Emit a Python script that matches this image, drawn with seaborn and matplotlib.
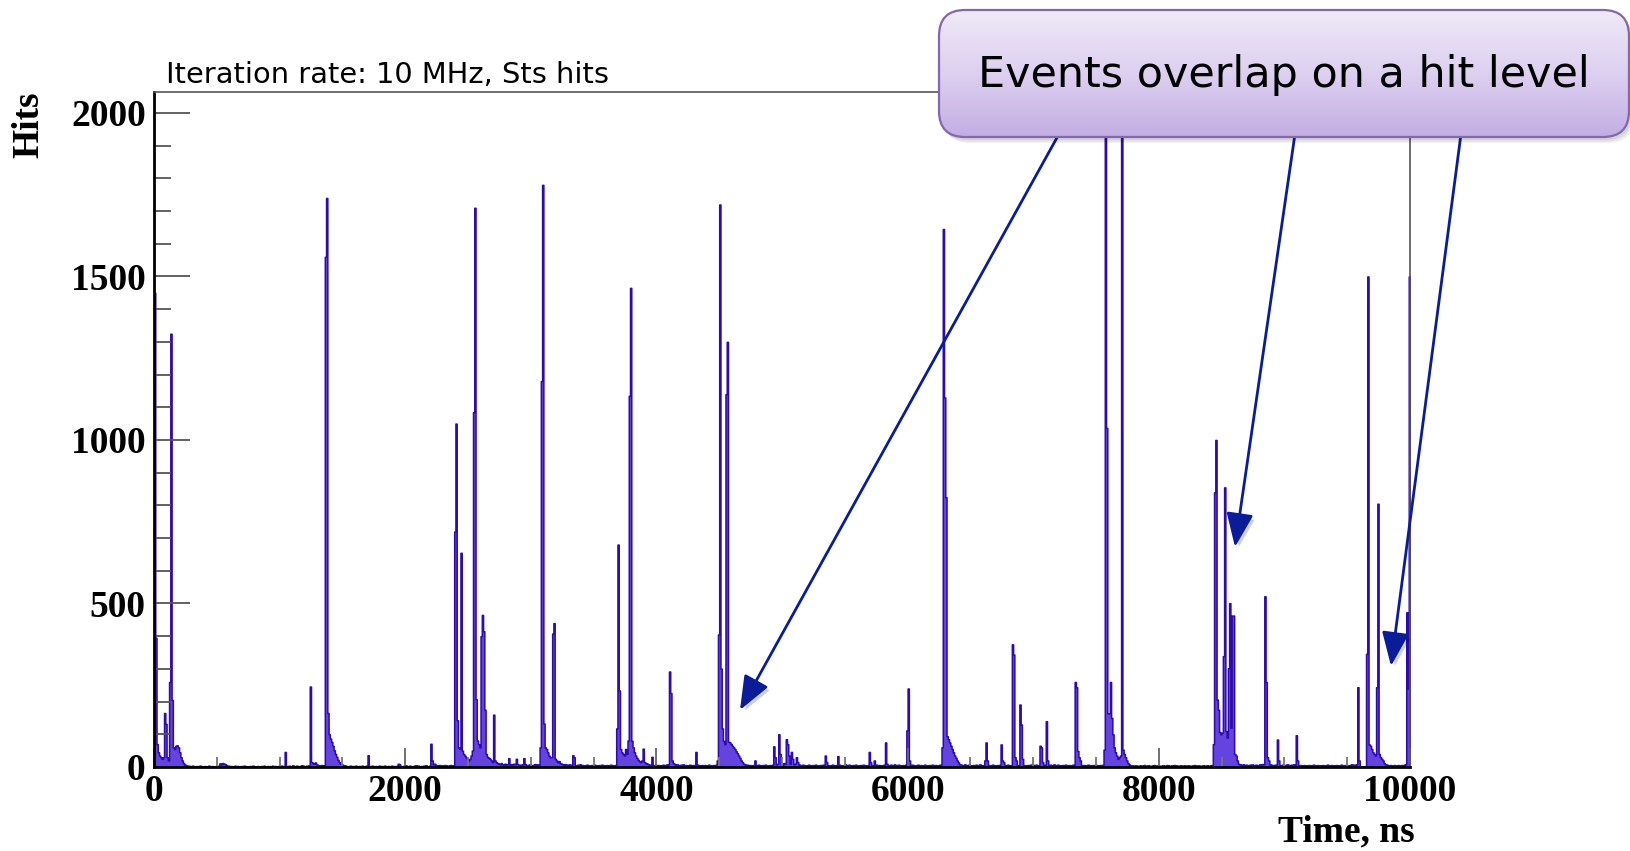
import numpy as np
import pandas as pd
import matplotlib
matplotlib.use("Agg")
import matplotlib.pyplot as plt
import seaborn as sns
from matplotlib.patches import FancyBboxPatch
from matplotlib.colors import LinearSegmentedColormap
from matplotlib import patheffects as pe
from matplotlib import font_manager as fm
from matplotlib.ticker import MultipleLocator

# ---------------- data ----------------
bin_width_ns = 10
time_range_ns = (0, 10000)

# bursts: start time (ns) and consecutive 10 ns bin contents (hits)
burst_starts_ns = [0, 520, 1040, 1240, 1360, 1700, 1940, 2200, 2390, 2820, 2880, 2940,
                   3070, 3330, 3680, 3960, 4100, 4310, 4480, 4780, 4930, 5340, 5440,
                   5690, 5730, 5820, 5990, 6270, 6610, 6740, 6830, 6890, 7050, 7100,
                   7330, 7560, 8430, 8840, 8940, 9090, 9580, 9650, 9970]
burst_counts = [
    [1450, 395, 70, 45, 35, 30, 25, 30, 165, 132, 30, 20, 260, 1325, 205, 60, 55, 65, 66, 60, 45, 30, 20, 12, 8, 5, 3],
    [11, 8, 12, 10, 9, 6],
    [46],
    [246, 15, 12, 10, 14, 8],
    [1560, 1740, 165, 100, 87, 77, 65, 51, 40, 31, 22, 15, 10, 8, 6, 5],
    [36],
    [10, 8],
    [71, 20, 8, 10, 6],
    [720, 1050, 143, 60, 55, 655, 50, 40, 35, 30, 25, 20, 25, 35, 50, 1085, 1710, 207, 81, 70, 60,
     400, 465, 415, 175, 40, 31, 28, 25, 20, 15, 160, 20, 15, 12, 10, 8],
    [27],
    [25],
    [27],
    [60, 1180, 1780, 133, 60, 55, 45, 35, 30, 30, 408, 440, 25, 20, 15, 18, 12, 10],
    [36, 30],
    [118, 680, 234, 55, 45, 40, 35, 55, 40, 81, 1135, 1465, 80, 60, 45, 35, 28, 22, 18, 15, 20, 56, 15, 12, 10],
    [31],
    [292, 226, 20, 12],
    [46],
    [20, 405, 1720, 301, 118, 80, 70, 1140, 1300, 77, 75, 70, 65, 60, 55, 48, 42, 35, 28, 20, 15, 10, 8, 6],
    [20],
    [63, 30, 8, 10, 100, 40, 8, 6, 12, 10, 85, 70, 35, 10, 46, 25, 8, 10, 30, 15],
    [35, 15],
    [33],
    [46, 15],
    [20],
    [75, 10],
    [112, 240, 20],
    [60, 1645, 1130, 825, 94, 85, 75, 65, 55, 45, 35, 28, 20, 14, 8],
    [20, 75, 20],
    [69, 20, 15],
    [375, 344, 30, 20],
    [191, 130, 25],
    [65, 60, 15],
    [140, 20],
    [260, 244, 49, 30, 20],
    [53, 1960, 1037, 164, 164, 260, 150, 100, 60, 45, 35, 25, 30, 35, 1950, 53, 40, 30, 20, 12, 8, 5],
    [70, 840, 1000, 206, 175, 107, 100, 105, 339, 855, 110, 90, 302, 501, 120, 463, 463, 40, 35, 20, 10],
    [522, 260, 30, 20],
    [84, 20],
    [97, 20],
    [244, 20],
    [346, 1500, 69, 65, 55, 45, 40, 35, 244, 805, 40, 30, 25, 20, 12, 8],
    [473, 240, 1500],
]

# low-level background between bursts
baseline_starts_ns = [270, 580, 1050, 1300, 1520, 2250, 2760, 3250, 3930, 4140, 4720,
                      5130, 6010, 6420, 7780, 8630, 9810]
baseline_counts = [
    [4, 3, 2, 4, 3, 2, 1, 3, 2, 4, 3, 2, 2, 3, 1, 2, 4, 3, 2, 3, 2, 1, 3, 2, 4],
    [3, 4, 2, 3, 1, 2, 4, 2, 3, 2, 1, 3, 2, 4, 3, 2, 1, 2, 3, 2, 4, 3, 2, 1, 3, 2, 2, 3, 2, 4, 1, 2,
     3, 2, 3, 2, 4, 2, 3, 1, 2, 3, 2, 4, 3, 2],
    [3, 2, 4, 3, 2, 5, 3, 2, 4, 3, 2, 3, 5, 4, 3, 2, 4, 3, 5],
    [6, 5, 4, 6, 5],
    [4, 3, 2, 3, 4, 2, 3, 2, 4, 3, 2, 3, 2, 4, 3, 2, 3, 4, 2, 3, 2, 4, 3, 2, 3, 2, 3, 4, 2, 3, 2, 4,
     3, 2, 3, 2, 3, 4, 2, 3, 2, 4, 3, 2, 3, 2, 3, 4, 5, 3, 2, 4, 3, 2, 3, 4, 5, 3, 4, 2, 3, 2, 4, 3,
     5, 3, 2, 4],
    [5, 4, 6, 3, 5, 4, 6, 5, 4, 3, 5, 6, 4, 5],
    [12, 8, 6, 10, 7, 9, 8, 6, 9, 7, 10, 8, 6, 9, 5, 7, 6, 8, 5, 9, 6, 4, 7, 8, 6, 5, 7, 9, 6, 8, 5],
    [8, 6, 9, 7, 5, 8, 6, 7, 5, 6, 4, 5, 7, 6, 8, 5, 6, 4, 5, 7, 6, 5, 4, 6, 5, 7, 6, 5, 4, 6, 5, 7,
     6, 4, 5, 6, 4, 5, 7, 6, 5, 4, 6],
    [9, 7, 6, 8, 5, 6, 7, 5, 6, 4, 5, 6, 7, 5, 6, 8, 7],
    [9, 7, 8, 6, 5, 7, 6, 8, 5, 6, 4, 5, 7, 6, 5, 6, 4, 5, 7, 6, 5, 4, 6, 5, 6, 4, 5, 7, 6, 5, 4, 6, 5, 7],
    [7, 5, 6, 4, 5, 6, 4, 5, 6, 7, 5, 4, 6, 5, 7, 6, 4, 5, 6, 5, 7],
    [8, 6, 5, 7, 6, 4, 5, 6, 7, 5, 4, 6, 5, 7, 6, 5, 4, 6, 5, 7, 6, 8, 5, 6, 4, 5, 6, 7, 5, 4, 6, 5,
     7, 6, 5, 4, 6, 8, 5, 6, 7, 5, 4, 6, 5, 7, 6, 5, 4, 6, 5, 7, 6, 5, 4, 6, 5, 7, 6, 5, 4, 6, 7, 5,
     6, 4, 5, 6, 7, 5, 4, 6, 5, 7, 6, 5, 8, 6, 5, 7, 6, 5, 4, 6, 5, 7],
    [6, 5, 7, 6, 4, 5, 6, 7, 5, 6, 4, 5, 7, 6, 5, 4, 6, 5, 7, 6, 5, 6, 4, 5, 7, 6],
    [7, 6, 5, 8, 6, 5, 7, 6, 5, 4, 6, 5, 7, 6, 5, 8, 6, 5, 4, 6, 7, 5, 6, 4, 5, 7, 6, 5, 4, 6, 5, 7,
     6, 5, 8, 6, 5, 7, 6, 5, 4, 6, 5, 7, 6, 5, 6, 4, 5, 7, 6, 5, 4, 6, 5, 7, 6, 8, 5, 6, 7, 5, 6, 4,
     5, 6, 7, 5, 4, 6, 5, 7, 6, 5, 8, 6, 5, 7, 6, 5, 4, 6, 5, 7, 6, 5, 6, 4, 5, 7, 6, 5, 4, 6, 5, 7,
     6, 5, 6, 4, 5, 7, 6, 5, 4, 6, 5, 7, 6, 5, 4, 6, 5, 7],
    [5, 4, 3, 5, 4, 3, 4, 5, 3, 4, 6, 4, 3, 5, 4, 3, 4, 5, 6, 4, 3, 5, 4, 3, 4, 5, 3, 4, 6, 5, 4, 3,
     5, 4, 6, 5, 4, 3, 4, 5, 3, 4, 5, 4, 3, 5, 4, 3, 4, 5, 6, 4, 3, 5, 4, 3, 4, 5, 3, 4, 5, 4, 3, 5, 6],
    [9, 8, 7, 6, 8, 5, 7, 6, 5, 7, 6, 8, 5, 6, 7, 5, 6, 8, 7, 9, 8, 6, 7, 5, 6, 8, 7, 6, 5, 7, 6, 5,
     8, 6, 5, 7, 6, 5, 7, 8, 6, 5, 7, 6, 8, 5, 6, 4, 5, 6, 5, 4, 6, 5, 4, 5, 6, 4, 5, 6, 7, 5, 4, 6,
     5, 4, 5, 6, 4, 5, 6, 7, 5, 4, 6, 5, 4, 5, 6, 4, 5, 6, 7, 5, 4, 6, 5, 4, 5, 6, 8, 7, 6, 7, 8],
    [7, 6, 5, 6, 4, 5, 6, 4, 5, 6, 5, 4, 6, 5, 7, 8],
]

x_ticks = [0, 2000, 4000, 6000, 8000, 10000]
y_ticks = [0, 500, 1000, 1500, 2000]
title_text = "Iteration rate: 10 MHz, Sts hits"
callout_text = "Events overlap on a hit level"
x_label_text = "Time, ns"
y_label_text = "Hits"

# ---------------- build histogram table ----------------
n_bins = (time_range_ns[1] - time_range_ns[0]) // bin_width_ns
hits = np.zeros(n_bins)
for starts, lists in ((baseline_starts_ns, baseline_counts), (burst_starts_ns, burst_counts)):
    for s, vals in zip(starts, lists):
        i = s // bin_width_ns
        seg = hits[i:i + len(vals)]
        hits[i:i + len(seg)] = vals[:len(seg)]
centers = time_range_ns[0] + (np.arange(n_bins) + 0.5) * bin_width_ns
df = pd.DataFrame({"time": centers, "hits": hits})

# ---------------- figure ----------------
W, H = 1631, 851
plt.rcParams["font.family"] = ["Liberation Serif", "DejaVu Serif"]
plt.rcParams["font.weight"] = "bold"
fig = plt.figure(figsize=(W / 100, H / 100), dpi=100)
fig.patch.set_facecolor("white")

ax = fig.add_axes([154 / W, 1 - 767 / H, (1410 - 154) / W, (767 - 92) / H])
sns.histplot(data=df, x="time", weights="hits", bins=n_bins, binrange=time_range_ns,
             element="step", fill=True, facecolor="#6443de", edgecolor="#2c0aae",
             linewidth=1.1, ax=ax)
ax.set_xlim(*time_range_ns)
ax.set_ylim(0, 2064)
ax.set_xlabel("")
ax.set_ylabel("")

for side in ("left", "bottom"):
    ax.spines[side].set_linewidth(2.0)
    ax.spines[side].set_color("black")
for side in ("top", "right"):
    ax.spines[side].set_linewidth(1.2)
    ax.spines[side].set_color("#555555")

ax.set_xticks(x_ticks)
ax.set_yticks(y_ticks)
ax.xaxis.set_minor_locator(MultipleLocator(500))
ax.yaxis.set_minor_locator(MultipleLocator(100))
ax.tick_params(axis="y", which="major", direction="in", length=26, width=1.3,
               color="#555555", pad=6, labelsize=27)
ax.tick_params(axis="y", which="minor", direction="in", length=12.5, width=1.3, color="#555555")
ax.tick_params(axis="x", which="major", direction="in", length=14, width=1.3,
               color="#666666", pad=5, labelsize=27)
ax.tick_params(axis="x", which="minor", direction="in", length=7, width=1.3, color="#777777")
ax.tick_params(top=False, right=False, which="both")
ax.set_xticklabels([str(v) for v in x_ticks], fontweight="bold")
ax.set_yticklabels([str(v) for v in y_ticks], fontweight="bold")

fig.text(29 / W, 1 - 91 / H, y_label_text, rotation=90, ha="center", va="top",
         fontsize=27, fontweight="bold")
fig.text(1415 / W, 1 - 832 / H, x_label_text, ha="right", va="center",
         fontsize=27, fontweight="bold")

# sans font for annotations
avail = {f.name for f in fm.fontManager.ttflist}
sans = "Liberation Sans Narrow" if "Liberation Sans Narrow" in avail else "DejaVu Sans"
renderer = fig.canvas.get_renderer()


def fit(t, target_w):
    w = t.get_window_extent(renderer).width
    t.set_fontsize(t.get_fontsize() * target_w / w)


title = fig.text(166 / W, 1 - 75 / H, title_text, ha="left", va="center",
                 fontsize=20, fontweight="normal", family=[sans, "DejaVu Sans"], color="black")
fit(title, 442)

# ---------------- callout overlay ----------------
ov = fig.add_axes([0, 0, 1, 1], zorder=10)
ov.set_xlim(0, W)
ov.set_ylim(H, 0)
ov.axis("off")
ov.patch.set_alpha(0)

arrow_col = "#0b1c98"
for (x0, y0), (x1, y1) in [((1059, 134), (740, 710)),
                           ((1295, 134), (1235, 547)),
                           ((1461, 134), (1391, 666))]:
    ov.annotate("", xy=(x1, y1), xytext=(x0, y0),
                arrowprops=dict(arrowstyle="-|>,head_length=0.8,head_width=0.32",
                                color=arrow_col, lw=2.0, mutation_scale=26,
                                shrinkA=0, shrinkB=0,
                                path_effects=[pe.SimplePatchShadow(offset=(2.5, -2.5), alpha=0.18),
                                              pe.Normal()]),
                zorder=11)

bx, by, bw, bh = 939, 10, 690, 127
style = "round,pad=0,rounding_size=26"
for k, a in enumerate([0.06, 0.06, 0.06]):
    sh = FancyBboxPatch((bx + 2 + 1.5 * k, by + 3 + 1.5 * k), bw, bh, boxstyle=style,
                        fc="black", ec="none", alpha=a, zorder=12)
    ov.add_patch(sh)
clip_box = FancyBboxPatch((bx, by), bw, bh, boxstyle=style, fc="none", ec="none", zorder=12.4)
ov.add_patch(clip_box)
cmap = LinearSegmentedColormap.from_list("grad", ["#efeaf8", "#ddd0f0", "#c3ade3"])
grad = np.linspace(0, 1, 256)[:, None]
im = ov.imshow(grad, extent=(bx, bx + bw, by + bh, by), cmap=cmap, aspect="auto",
               interpolation="bicubic", zorder=12.5)
im.set_clip_path(clip_box)
edge = FancyBboxPatch((bx, by), bw, bh, boxstyle=style, fc="none", ec="#8467ac", lw=1.6, zorder=13)
ov.add_patch(edge)
ov.set_xlim(0, W)
ov.set_ylim(H, 0)

call = ov.text(bx + bw / 2, 75, callout_text, ha="center", va="center", fontsize=30,
               fontweight="normal", family=[sans, "DejaVu Sans"], color="black", zorder=14)
fit(call, 611)

fig.savefig("out.png", dpi=100, facecolor="white")
